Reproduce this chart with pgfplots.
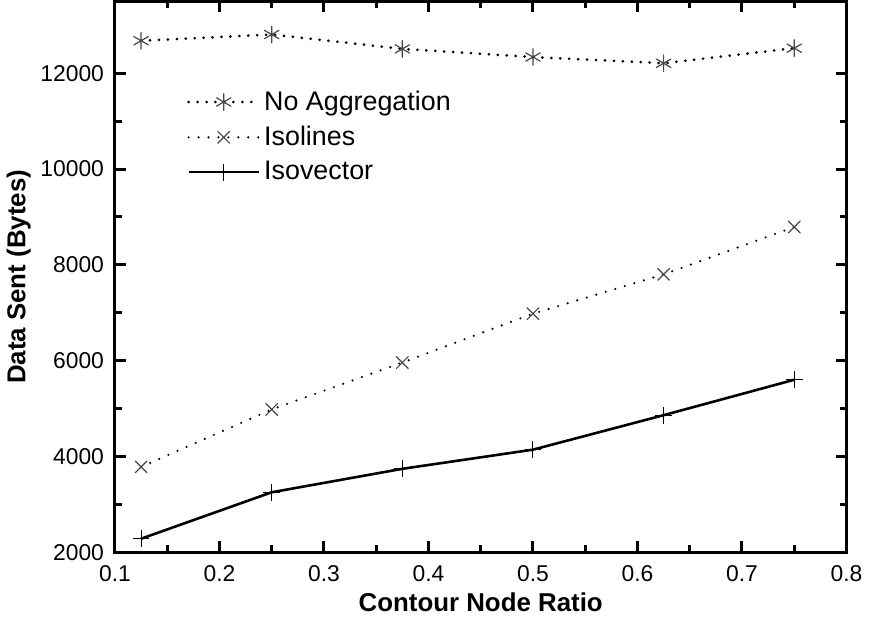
\documentclass[border=0pt]{standalone}
\usepackage{fontspec}
\setmainfont{Liberation Sans}
\usepackage{pgfplots}
\pgfplotsset{compat=1.18}

\begin{document}
\begin{tikzpicture}
\begin{axis}[
  scale only axis,
  width=368pt,
  height=277pt,
  xmin=0.1, xmax=0.8,
  ymin=2000, ymax=13500,
  xtick={0.1,0.2,...,0.8},
  ytick={2000,4000,...,12000},
  minor x tick num=1,
  minor y tick num=1,
  tick align=inside,
  major tick length=5.5pt,
  minor tick length=3.5pt,
  tick style={black,line width=1.5pt},
  axis line style={black,line width=1.5pt},
  xticklabel style={font=\fontsize{11.5}{13}\selectfont,yshift=-3pt},
  yticklabel style={font=\fontsize{11.5}{13}\selectfont,xshift=-2pt},
  /pgf/number format/assume math mode=true,
  /pgf/number format/fixed,
  /pgf/number format/1000 sep={},
  scaled y ticks=false,
  xlabel={\textbf{Contour Node Ratio}},
  ylabel={\textbf{Data Sent (Bytes)}},
  label style={font=\fontsize{13}{15}\selectfont},
  xlabel style={yshift=1pt},
  ylabel style={yshift=-2pt},
  legend style={font=\fontsize{13.5}{16}\selectfont,at={(0.09,0.853)},anchor=north west,draw=none,fill=none,row sep=2.5pt},
  legend cell align={left},
  legend image code/.code={\draw[mark repeat=2,mark phase=2,#1] plot coordinates {(0cm,0cm) (0.62cm,0cm) (1.24cm,0cm)};},
]
\addplot[black,line width=1.5pt,line cap=round,dash pattern=on 0pt off 4.5pt,mark=asterisk,mark size=4.2pt,
  mark options={solid,gray!55!black,line width=0.6pt}]
coordinates {(0.125,12680) (0.25,12810) (0.375,12510) (0.5,12340) (0.625,12210) (0.75,12525)};
\addlegendentry{No Aggregation}
\addplot[black,line width=1.2pt,line cap=round,dash pattern=on 0pt off 5pt,mark=x,mark size=4.2pt,
  mark options={solid,gray!55!black,line width=0.6pt}]
coordinates {(0.125,3780) (0.25,4980) (0.375,5960) (0.5,6980) (0.625,7800) (0.75,8790)};
\addlegendentry{Isolines}
\addplot[black,line width=1.3pt,mark=+,mark size=4.2pt,
  mark options={solid,black,line width=0.5pt}]
coordinates {(0.125,2280) (0.25,3250) (0.375,3740) (0.5,4140) (0.625,4860) (0.75,5600)};
\addlegendentry{Isovector}
\end{axis}
\end{tikzpicture}
\end{document}
